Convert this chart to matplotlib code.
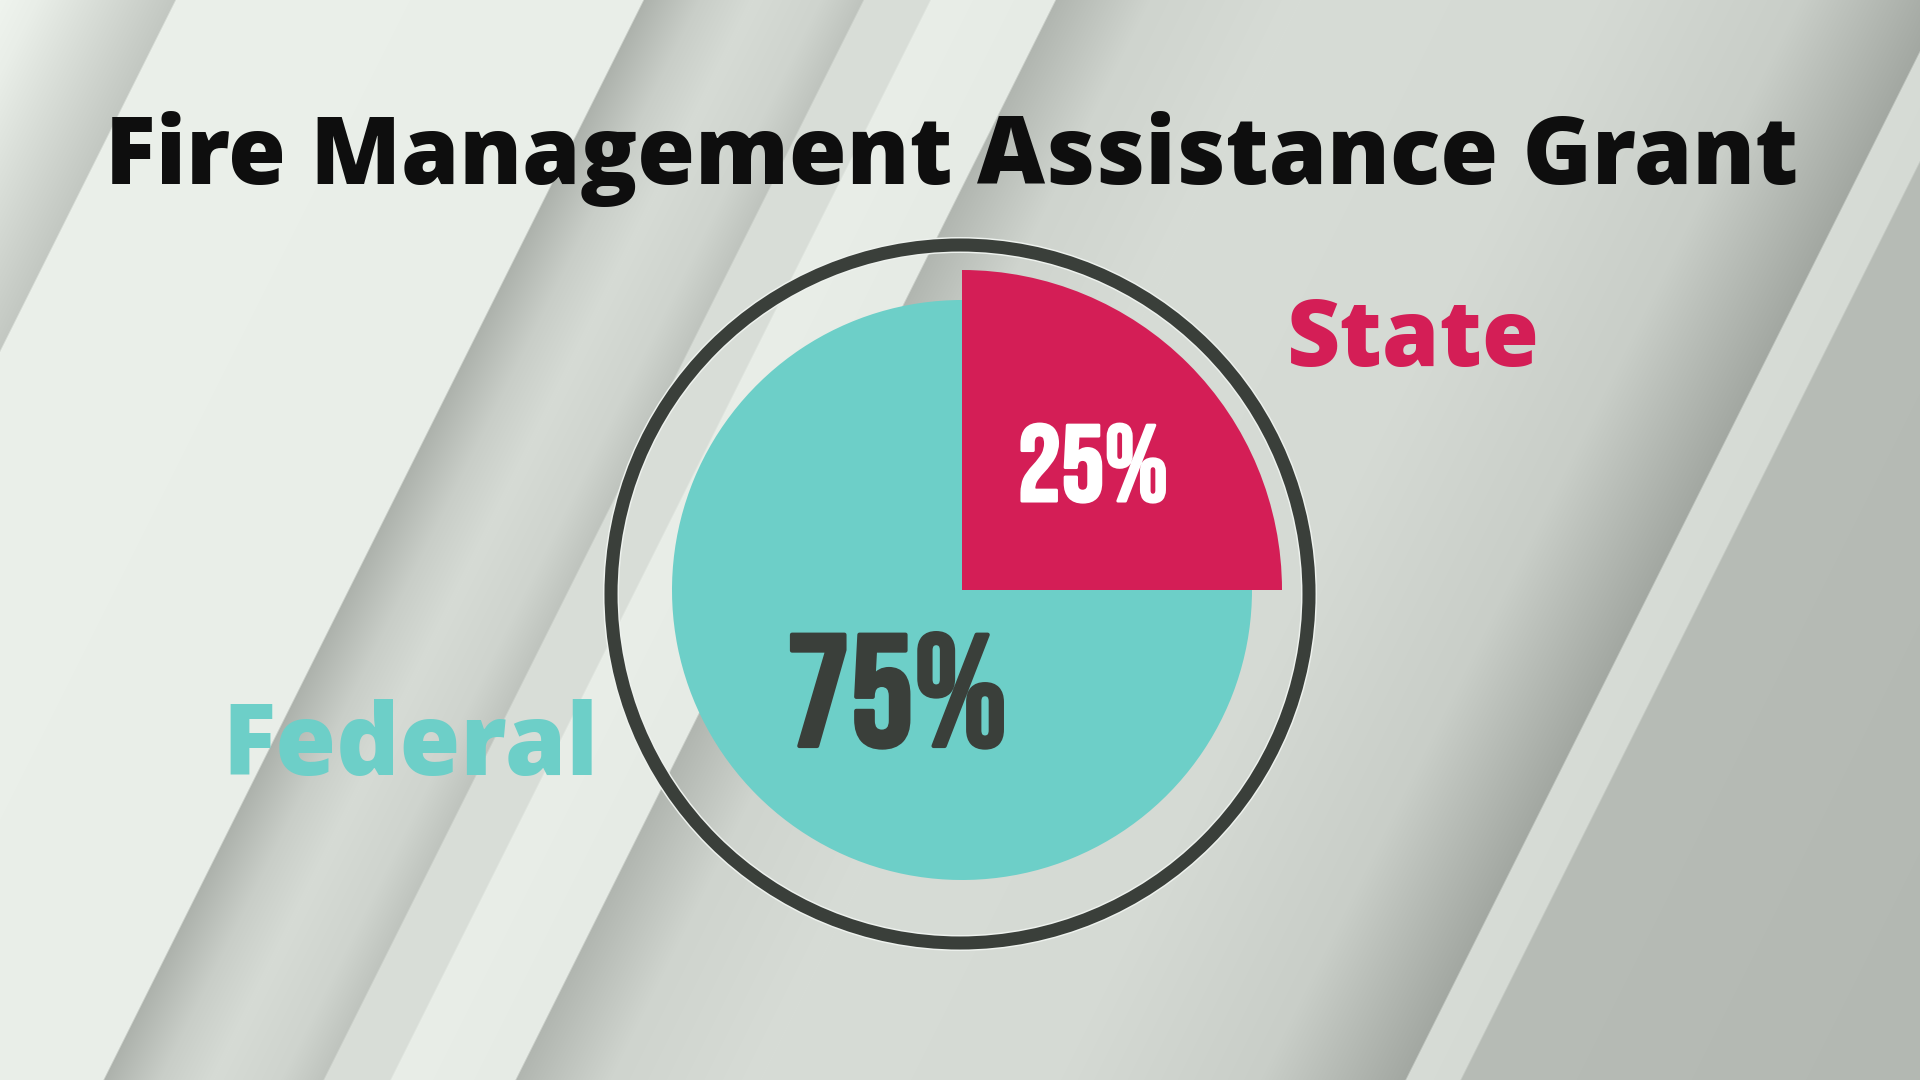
import numpy as np
import matplotlib
matplotlib.use("Agg")
import matplotlib.pyplot as plt
import matplotlib.patheffects as pe
from matplotlib.patches import Circle

# chart data
title = "Fire Management Assistance Grant"
labels = ["State", "Federal"]
shares = [25, 75]
pct_labels = ["25%", "75%"]

teal = "#6dcfc8"
crimson = "#d41e56"
dark = "#3a3f3a"

W, H = 1920, 1080

# background: diagonal shaded bands (u = position along the stripes)
band_u = [0, 37, 174, 176, 642, 644, 700, 753, 820, 862, 864, 929, 931,
          1054, 1056, 1150, 1300, 1600, 1800, 1944, 1946, 1999, 2001, 2460]
band_g = [244, 238, 200, 240, 238, 178, 206, 219, 212, 196, 221, 222, 238,
          235, 182, 212, 220, 218, 206, 168, 220, 218, 188, 184]

yy, xx = np.mgrid[0:H, 0:W]
u = xx + 0.5 * yy
g = np.interp(u, band_u, band_g)
bg = np.clip(np.dstack([g - 5, g, g - 6]) / 255.0, 0, 1)

fig = plt.figure(figsize=(19.2, 10.8), dpi=100)
ax = fig.add_axes([0, 0, 1, 1])
ax.imshow(bg, extent=[0, W, 0, H], origin="upper", zorder=0)

# pie: State quarter drawn bigger than the Federal part
cx, cy = 962, H - 590
wedges, _ = ax.pie(shares, colors=[crimson, teal], startangle=0, counterclock=True,
                   radius=290, center=(cx, cy), frame=True,
                   wedgeprops=dict(linewidth=0))
wedges[0].set_radius(320)
for w in wedges:
    w.set_zorder(2)

# outer ring
ax.add_patch(Circle((960, H - 594), 349, fill=False, edgecolor="#eef2ee",
                    linewidth=11.5, zorder=3))
ax.add_patch(Circle((960, H - 594), 349, fill=False, edgecolor=dark,
                    linewidth=9.4, zorder=4))

ax.set_xlim(0, W)
ax.set_ylim(0, H)
ax.axis("off")

head = ["Open Sans", "DejaVu Sans"]
cond = ["Bebas Neue", "DejaVu Sans"]

ax.text(952, H - 184, title, ha="center", va="baseline", fontsize=67.5,
        fontweight=800, family=head, color="#0e0e0e", zorder=5)
ax.text(1413, H - 366, labels[0], ha="center", va="baseline", fontsize=66.5,
        fontweight=800, family=head, color=crimson, zorder=5)
ax.text(410, H - 775, labels[1], ha="center", va="baseline", fontsize=71,
        fontweight=800, family=head, color=teal, zorder=5)

# bebas is a bit light, thicken it with a same-colour stroke
ax.text(1093, H - 501, pct_labels[0], ha="center", va="baseline", fontsize=78,
        family=cond, color="white", zorder=5,
        path_effects=[pe.withStroke(linewidth=2.2, foreground="white",
                                    joinstyle="round")])
ax.text(897, H - 746, pct_labels[1], ha="center", va="baseline", fontsize=114.5,
        family=cond, color=dark, zorder=5,
        path_effects=[pe.withStroke(linewidth=3, foreground=dark,
                                    joinstyle="round")])

fig.savefig("out.png", dpi=100)
